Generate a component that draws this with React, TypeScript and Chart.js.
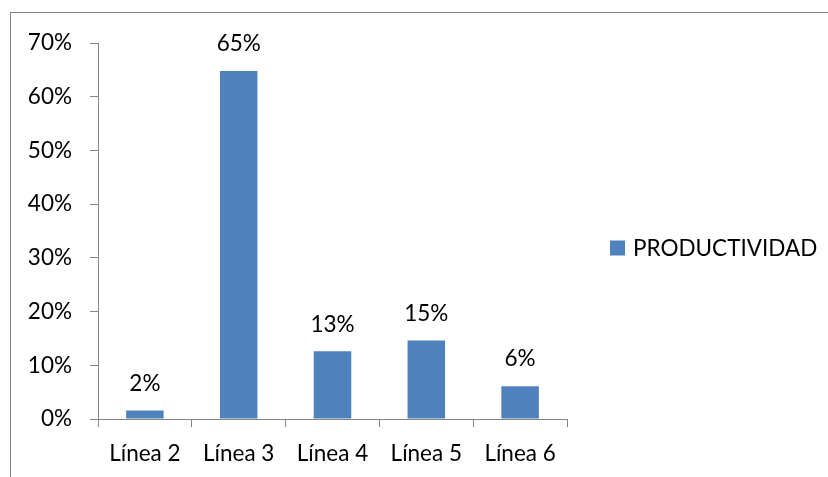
import React, { useEffect, useRef } from "react";
import { Chart, registerables } from "chart.js";

Chart.register(...registerables);

const categories = ["Línea 2", "Línea 3", "Línea 4", "Línea 5", "Línea 6"];
const productividad = [0.016, 0.648, 0.126, 0.146, 0.061];
const seriesName = "PRODUCTIVIDAD";
const yTicks = [0, 0.1, 0.2, 0.3, 0.4, 0.5, 0.6, 0.7];

const BAR_COLOR = "#4F81BD";
const AXIS_COLOR = "#868686";
const FONT_FAMILY = "Lato, 'Open Sans', sans-serif";
const FONT_SIZE = 22.5;

const pct = (v: number) => `${Math.round(v * 100)}%`;

// Outer frame of the chart object
const framePlugin = {
  id: "frame",
  beforeDraw(chart: any) {
    const { ctx } = chart;
    ctx.save();
    ctx.fillStyle = "#ffffff";
    ctx.fillRect(0, 0, chart.width, chart.height);
    ctx.strokeStyle = AXIS_COLOR;
    ctx.lineWidth = 1;
    ctx.strokeRect(10.5, 12.5, chart.width + 20, chart.height + 20);
    ctx.restore();
  },
};

// Percentage labels above each bar
const valueLabelPlugin = {
  id: "valueLabels",
  afterDatasetsDraw(chart: any) {
    const { ctx } = chart;
    ctx.save();
    ctx.font = `${FONT_SIZE}px ${FONT_FAMILY}`;
    ctx.fillStyle = "#000000";
    ctx.textAlign = "center";
    ctx.textBaseline = "middle";
    chart.data.datasets.forEach((ds: any, di: number) => {
      const meta = chart.getDatasetMeta(di);
      meta.data.forEach((bar: any, i: number) => {
        ctx.fillText(pct(ds.data[i]), bar.x, bar.y - 27);
      });
    });
    ctx.restore();
  },
};

// Legend entry on the right-hand side
const sideLegendPlugin = {
  id: "sideLegend",
  afterDraw(chart: any) {
    const { ctx } = chart;
    const ds = chart.data.datasets[0];
    const x = 610;
    const cy = 248.5;
    ctx.save();
    ctx.fillStyle = ds.backgroundColor;
    ctx.fillRect(x, cy - 8, 15, 15);
    ctx.font = `${FONT_SIZE}px ${FONT_FAMILY}`;
    ctx.fillStyle = "#000000";
    ctx.textAlign = "left";
    ctx.textBaseline = "middle";
    ctx.fillText(ds.label, x + 23, cy);
    ctx.restore();
  },
};

export default function App() {
  const canvasRef = useRef<HTMLCanvasElement | null>(null);

  useEffect(() => {
    if (!canvasRef.current) return;
    const chart = new Chart(canvasRef.current, {
      type: "bar",
      data: {
        labels: categories,
        datasets: [
          {
            label: seriesName,
            data: productividad,
            backgroundColor: BAR_COLOR,
            borderWidth: 0,
            barPercentage: 1,
            categoryPercentage: 0.4,
          },
        ],
      },
      options: {
        animation: false,
        responsive: false,
        devicePixelRatio: 1,
        layout: { padding: { left: 0, top: 43, right: 261, bottom: 0 } },
        plugins: {
          legend: { display: false },
          tooltip: { enabled: false },
        },
        scales: {
          x: {
            grid: {
              offset: true,
              drawOnChartArea: false,
              drawTicks: true,
              tickLength: 8,
              color: AXIS_COLOR,
            },
            border: { display: true, color: AXIS_COLOR },
            ticks: {
              color: "#000000",
              padding: 13,
              maxRotation: 0,
              font: { family: FONT_FAMILY, size: FONT_SIZE },
            },
            afterFit: (scale: any) => {
              scale.height = 58;
            },
          },
          y: {
            min: 0,
            max: 0.7,
            afterBuildTicks: (scale: any) => {
              scale.ticks = yTicks.map((v) => ({ value: v }));
            },
            grid: {
              drawOnChartArea: false,
              drawTicks: true,
              tickLength: 8,
              color: AXIS_COLOR,
            },
            border: { display: true, color: AXIS_COLOR },
            ticks: {
              color: "#000000",
              padding: 18,
              font: { family: FONT_FAMILY, size: FONT_SIZE },
              callback: (v: any) => pct(Number(v)),
            },
            afterFit: (scale: any) => {
              scale.width = 98;
            },
          },
        },
      },
      plugins: [framePlugin, valueLabelPlugin, sideLegendPlugin],
    });
    return () => chart.destroy();
  }, []);

  return (
    <div style={{ position: "absolute", left: 0, top: 0, width: 828, height: 477 }}>
      <canvas ref={canvasRef} width={828} height={477} />
    </div>
  );
}
